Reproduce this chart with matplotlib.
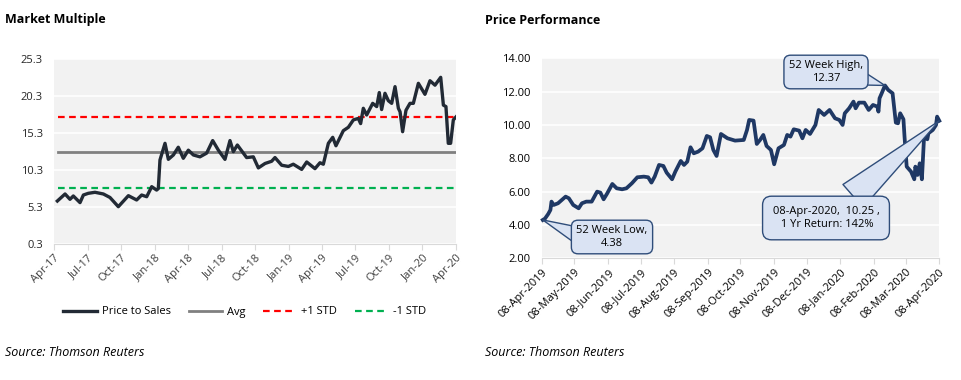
import matplotlib
matplotlib.use("Agg")
import matplotlib.pyplot as plt
import numpy as np
import pandas as pd

# ---------------- Data: Market Multiple (months since Apr-2017) ----------------
pm_month = [0.30, 0.99, 1.43, 1.73, 2.33, 2.63, 3.07, 3.67, 4.42, 5.01, 5.76, 6.66, 7.40,
            7.85, 8.30, 8.75, 9.19, 9.34, 9.49, 9.94, 10.24, 10.69, 11.13, 11.58, 12.03,
            12.48, 13.07, 13.67, 14.21, 14.72, 15.31, 15.76, 16.06, 16.42, 17.25, 17.85,
            18.30, 18.90, 19.49, 19.79, 20.39, 20.99, 21.43, 22.18, 22.63, 23.37, 23.82,
            24.12, 24.57, 24.96, 25.25, 25.91, 26.36, 26.81, 27.25, 27.46, 27.70, 28.00,
            28.54, 28.90, 29.13, 29.34, 29.64, 29.94, 30.24, 30.54, 30.84, 30.99, 31.22,
            31.52, 31.88, 32.18, 32.63, 33.22, 33.67, 34.12, 34.63, 34.87, 35.10, 35.31,
            35.52, 35.76, 36.00]
pm_value = [6.12, 7.07, 6.35, 6.80, 5.90, 6.93, 7.16, 7.30, 7.07, 6.60, 5.35, 6.84, 6.26,
            6.93, 6.70, 8.06, 7.60, 7.80, 11.67, 13.93, 11.76, 12.35, 13.40, 11.90, 13.00,
            12.35, 12.10, 12.60, 14.30, 13.00, 11.76, 14.30, 12.80, 13.70, 12.00, 12.10,
            10.60, 11.20, 11.50, 12.00, 10.96, 10.80, 11.10, 10.40, 11.40, 10.50, 11.30,
            11.10, 13.93, 14.74, 13.60, 15.64, 16.10, 17.10, 17.30, 16.60, 18.67, 17.76,
            19.34, 18.90, 20.80, 18.50, 20.70, 19.70, 19.34, 21.60, 18.67, 18.20, 15.50,
            18.40, 19.34, 19.34, 22.05, 20.56, 22.40, 21.80, 22.86, 19.10, 18.90, 13.93,
            13.93, 17.10, 17.50]
pm_avg = 12.7
pm_plus_std = 17.5
pm_minus_std = 7.9
pm_ticks = ["Apr-17", "Jul-17", "Oct-17", "Jan-18", "Apr-18", "Jul-18", "Oct-18",
            "Jan-19", "Apr-19", "Jul-19", "Oct-19", "Jan-20", "Apr-20"]

# ---------------- Data: Price Performance (days since 08-Apr-2019) ----------------
pp_day = [1, 3, 6, 8, 9, 11, 15, 22, 25, 29, 34, 37, 41, 46, 51, 54, 57, 60, 65, 69, 74,
          78, 83, 88, 94, 98, 101, 104, 108, 112, 115, 120, 123, 128, 131, 134, 137, 140,
          144, 148, 152, 155, 158, 161, 165, 171, 178, 186, 189, 191, 195, 198, 201, 204,
          207, 211, 214, 218, 223, 226, 229, 232, 237, 240, 243, 247, 252, 255, 260, 265,
          270, 274, 277, 279, 283, 287, 289, 292, 297, 301, 305, 309, 310, 311, 313, 316,
          319, 323, 326, 328, 330, 333, 334, 336, 340, 343, 344, 346, 348, 350, 352, 355,
          356, 360, 362, 363, 364, 366]
pp_price = [4.30, 4.38, 4.66, 4.90, 5.40, 5.20, 5.30, 5.70, 5.60, 5.20, 5.00, 5.30, 5.40,
            5.40, 6.00, 5.94, 5.54, 5.86, 6.46, 6.20, 6.14, 6.20, 6.50, 6.86, 6.90, 6.86,
            6.54, 6.90, 7.60, 7.54, 7.14, 6.74, 7.20, 7.84, 7.60, 7.80, 8.66, 8.30, 8.40,
            8.60, 9.34, 9.26, 8.50, 8.14, 9.46, 9.20, 9.06, 9.10, 9.70, 10.30, 10.26, 8.86,
            9.10, 9.40, 8.74, 8.50, 7.64, 8.60, 8.80, 9.40, 9.30, 9.74, 9.66, 9.20, 9.70,
            9.46, 10.00, 10.90, 10.60, 10.90, 10.40, 10.30, 10.00, 10.70, 11.00, 11.40,
            11.00, 11.34, 11.34, 10.90, 11.20, 11.10, 10.80, 11.60, 11.90, 12.37, 12.10,
            11.90, 10.14, 10.10, 10.70, 10.34, 9.30, 7.50, 7.20, 6.74, 7.50, 7.00, 7.70,
            6.74, 9.30, 9.14, 9.50, 9.70, 9.90, 10.00, 10.50, 10.25]
pp_ticks = ["08-Apr-2019", "08-May-2019", "08-Jun-2019", "08-Jul-2019", "08-Aug-2019",
            "08-Sep-2019", "08-Oct-2019", "08-Nov-2019", "08-Dec-2019", "08-Jan-2020",
            "08-Feb-2020", "08-Mar-2020", "08-Apr-2020"]
low_label = "52 Week Low,\n4.38"
high_label = "52 Week High,\n12.37"
last_label = "08-Apr-2020,  10.25 ,\n 1 Yr Return: 142%"

start = pd.Timestamp("2019-04-08")
end = pd.Timestamp("2020-04-08")
pp_dates = [start + pd.Timedelta(days=d) for d in pp_day]

plt.rcParams["font.family"] = ["Open Sans", "DejaVu Sans"]

fig = plt.figure(figsize=(9.61, 3.80), dpi=100)
BG = "#f2f2f2"
TXT = "#262626"

def fx(px):
    return px / 961

def fy(py):
    return 1 - py / 380

# ---------------- Left chart ----------------
ax1 = fig.add_axes([0.0562, 0.3579, 0.4183, 0.486])
ax1.set_facecolor(BG)
ax1.set_xlim(0, 36)
ax1.set_ylim(0.3, 25.3)
yt = [0.3, 5.3, 10.3, 15.3, 20.3, 25.3]
ax1.set_yticks(yt)
ax1.set_yticklabels([f"{v:.1f}" for v in yt], fontsize=8, color=TXT)
ax1.set_xticks(np.arange(0, 37, 3))
ax1.set_xticklabels(pm_ticks, rotation=45, ha="right", rotation_mode="anchor",
                    fontsize=8, color="#404040")
ax1.grid(axis="y", color="white", linewidth=1.2)
ax1.set_axisbelow(True)
for s in ["top", "right", "left"]:
    ax1.spines[s].set_visible(False)
ax1.spines["bottom"].set_color("#d9d9d9")
ax1.tick_params(axis="y", length=0, pad=8)
ax1.tick_params(axis="x", length=4, color="#d9d9d9", pad=2)
l2 = ax1.axhline(pm_avg, xmin=0.01, xmax=1, color="#808080", linewidth=2, label="Avg")
l3 = ax1.axhline(pm_plus_std, xmin=0.01, color="#ff0000", linewidth=1.6,
                 linestyle=(0, (3, 2)), label="+1 STD")
l4 = ax1.axhline(pm_minus_std, xmin=0.01, color="#00b050", linewidth=1.6,
                 linestyle=(0, (3, 2)), label="-1 STD")
l1, = ax1.plot(pm_month, pm_value, color="#222a35", linewidth=2.4, label="Price to Sales",
               solid_joinstyle="round")
fig.legend(handles=[l1, l2, l3, l4], loc="center", bbox_to_anchor=(fx(245), fy(312)),
           ncol=4, frameon=False, fontsize=8, handlelength=3.0, columnspacing=1.6,
           handletextpad=0.45)

fig.text(fx(5), fy(20), "Market Multiple", fontsize=9, fontweight="bold",
         va="center", ha="left", color="black")
fig.text(fx(5), fy(352), "Source: Thomson Reuters", fontsize=9, style="italic",
         va="center", ha="left", color="black")

# ---------------- Right chart ----------------
ax2 = fig.add_axes([0.5637, 0.3203, 0.4137, 0.5263])
ax2.set_facecolor(BG)
ax2.set_xlim(start, end)
ax2.set_ylim(2, 14)
yt2 = np.arange(2, 15, 2)
ax2.set_yticks(yt2)
ax2.set_yticklabels([f"{v:.2f}" for v in yt2], fontsize=8, color="black")
tick_dates = list(pd.to_datetime(pp_ticks, format="%d-%b-%Y"))
ax2.set_xticks(tick_dates)
ax2.set_xticklabels(pp_ticks, rotation=45, ha="right", rotation_mode="anchor",
                    fontsize=8, color="black")
ax2.grid(axis="y", color="white", linewidth=1.2)
ax2.set_axisbelow(True)
for s in ["top", "right", "left"]:
    ax2.spines[s].set_visible(False)
ax2.spines["bottom"].set_color("#d9d9d9")
ax2.tick_params(axis="y", length=0, pad=8)
ax2.tick_params(axis="x", length=4, color="#d9d9d9", pad=2)
ax2.plot(pp_dates, pp_price, color="#1f3864", linewidth=2.7, solid_joinstyle="round",
         clip_on=False)

FC = "#dae3f3"
EC = "#2f4d7a"
box = dict(boxstyle="round,pad=0.45,rounding_size=0.6", fc=FC, ec=EC, lw=1)
box_big = dict(boxstyle="round,pad=0.9,rounding_size=0.8", fc=FC, ec=EC, lw=1)

def wedge(tw):
    return dict(arrowstyle=f"wedge,tail_width={tw},shrink_factor=0.5", fc=FC, ec=EC,
                lw=1, shrinkA=0, shrinkB=0, mutation_scale=10)

i_low = int(np.argmin(pp_price[:20]))
i_high = int(np.argmax(pp_price))
i_last = len(pp_price) - 1

# callout pointers (drawn under the boxes)
ax2.annotate("", xy=(pp_dates[i_low], pp_price[i_low]), xytext=(fx(575), fy(234)),
             textcoords="figure fraction", arrowprops=wedge(1.1), zorder=5)
ax2.annotate("", xy=(pp_dates[i_high], pp_price[i_high]), xytext=(fx(864), fy(79)),
             textcoords="figure fraction", arrowprops=wedge(0.9), zorder=5)
ax2.annotate("", xy=(pp_dates[i_last], pp_price[i_last]), xytext=(fx(853), fy(196)),
             textcoords="figure fraction", arrowprops=wedge(2.2), zorder=5)

# callout boxes
ax2.annotate(low_label, xy=(fx(612), fy(237)), xycoords="figure fraction",
             ha="center", va="center", fontsize=8, bbox=box, zorder=6)
ax2.annotate(high_label, xy=(fx(826), fy(72)), xycoords="figure fraction",
             ha="center", va="center", fontsize=8, bbox=box, zorder=6)
ax2.annotate(last_label, xy=(fx(826), fy(218)), xycoords="figure fraction",
             ha="center", va="center", fontsize=8, bbox=box_big, zorder=6)

fig.text(fx(485), fy(20), "Price Performance", fontsize=9, fontweight="bold",
         va="center", ha="left", color="black")
fig.text(fx(485), fy(352), "Source: Thomson Reuters", fontsize=9, style="italic",
         va="center", ha="left", color="black")

fig.savefig("out.png", dpi=100)
